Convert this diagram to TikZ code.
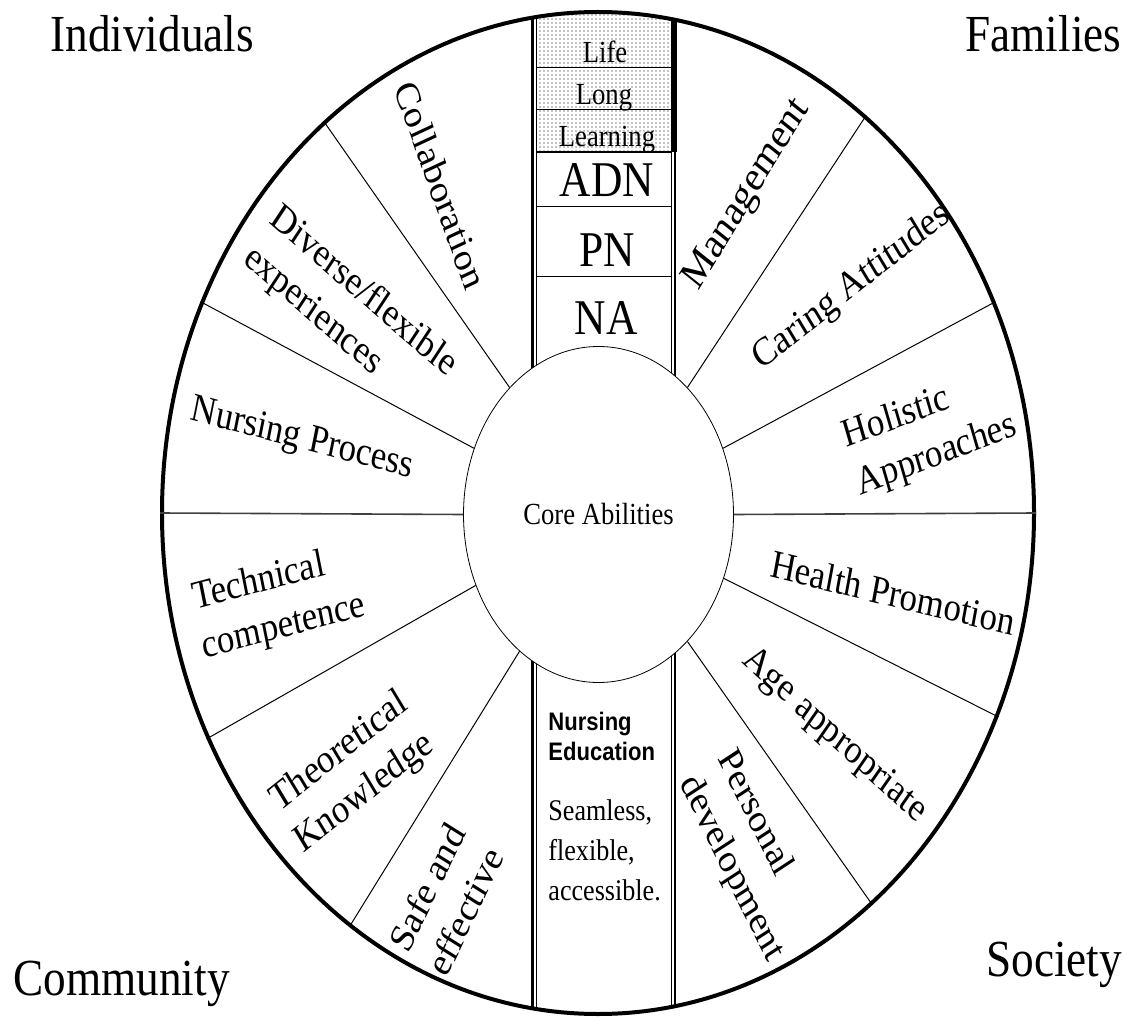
\documentclass[tikz,border=0pt]{standalone}
\usepackage{fontspec}
\setmainfont{Liberation Serif}
\newfontfamily\headfont{Liberation Sans}
\usepackage{tikz}
\usetikzlibrary{shapes.geometric,patterns}
\tikzset{every picture/.style={line width=0.75pt}}
\tikzset{
  lbl/.style={xscale=0.87, inner sep=0pt, font=\fontsize{30}{37.5}\selectfont},
  cornerlbl/.style={xscale=0.87, inner sep=0pt, anchor=base west, font=\fontsize{39}{45}\selectfont},
  celllbl/.style={xscale=0.87, inner sep=0pt, anchor=base, font=\fontsize{37.5}{40}\selectfont},
  lifelbl/.style={xscale=0.87, inner sep=0pt, anchor=base, font=\fontsize{23}{26}\selectfont},
  spoke/.style={line width=0.75pt},
  midspoke/.style={line width=1.2pt, color=black!75},
}

\begin{document}
\begin{tikzpicture}[x=0.75pt,y=0.75pt,yscale=-1,xscale=1]
\useasboundingbox (0,0) rectangle (1134,1019);

%Band through the wheel
\begin{scope}
\clip (598,513) ellipse [x radius=436, y radius=501];
%Shaded cells
\fill [pattern=dots] (536,0) rectangle (672,152);
%Band borders
\draw [line width=2pt] (532.5,0) -- (532.5,1019);
\draw [line width=1pt] (536.5,0) -- (536.5,1019);
\draw [line width=1pt] (671.5,0) -- (671.5,1019);
\draw [line width=2pt] (675,0) -- (675,1019);
\draw [line width=3.5pt] (674.5,0) -- (674.5,152);
%Cell dividers
\draw (536,68) -- (672,68);
\draw (536,110) -- (672,110);
\draw [line width=1.5pt] (536,152) -- (672,152);
\draw (536,207) -- (672,207);
\draw (536,277) -- (672,277);
\end{scope}

%Shape: Ellipse (core)
\node [draw, ellipse, fill=white, inner sep=0pt, line width=0.6pt,
       minimum width=202.5pt, minimum height=252pt] (core) at (598.5,514.5) {};
%Shape: Ellipse (wheel)
\node [draw, ellipse, inner sep=0pt, line width=3pt,
       minimum width=654pt, minimum height=751.5pt] (wheel) at (598,513) {};

%Spokes, left half
\draw [spoke] (core.125) -- (wheel.125);
\draw [spoke] (core.152.5) -- (wheel.152.5);
\draw [midspoke] (core.180) -- (wheel.180);
\draw [spoke] (core.210.5) -- (wheel.210.5);
\draw [spoke] (core.240.5) -- (wheel.239.5);
%Spokes, right half
\draw [spoke] (core.55.5) -- (wheel.56.5);
\draw [spoke] (core.28.5) -- (wheel.28.5);
\draw [midspoke] (core.0) -- (wheel.0);
\draw [spoke] (core.-27.8) -- (wheel.-27.7);
\draw [spoke] (core.-55.7) -- (wheel.-55.3);

%Text Node
\node [xscale=0.87, inner sep=0pt, font=\fontsize{23}{26}\selectfont] (coretxt) at (core.center) {Core Abilities};

%Band cells
\node [lifelbl] (life) at (605,63) {Life};
\node [lifelbl] (long) at (604,105) {Long};
\node [lifelbl] (learning) at (607,147) {Learning};
\node [celllbl] (adn) at (607,197) {ADN};
\node [celllbl] (pn) at (607,267) {PN};
\node [celllbl] (na) at (606,335) {NA};
\node [xscale=0.87, inner sep=0pt, anchor=north west, align=left,
       font=\headfont\bfseries\fontsize{19}{22.5}\selectfont] (nursedu) at (548,712) {Nursing\\Education};
\node [xscale=0.87, inner sep=0pt, anchor=north west, align=left,
       font=\fontsize{22.5}{30}\selectfont] (nursdesc) at (548,799) {Seamless,\\flexible,\\accessible.};

%Sector labels, left half
\node [lbl, rotate=-67.9] (collab) at (441,185) {Collaboration};
\node [lbl, rotate=-37.1, align=left] (diverse) at (350,312) {Diverse/flexible\\experiences};
\node [lbl, rotate=-12.9] (nursproc) at (302,440) {Nursing Process};
\node [lbl, rotate=12.9, align=left] (techcomp) at (279,603) {Technical\\competence};
\node [lbl, rotate=34.7, align=center] (theoknow) at (352,773) {Theoretical\\Knowledge};
\node [lbl, rotate=61.3, align=left] (safeeff) at (446,899) {Safe and\\effective};
%Sector labels, right half
\node [lbl, rotate=55.1, font=\fontsize{32}{37.5}\selectfont] (mgmt) at (747,195) {Management};
\node [lbl, rotate=34.7] (caring) at (852,287) {Caring Attitudes};
\node [lbl, rotate=18.5, align=left] (holistic) at (930,432) {Holistic\\Approaches};
\node [lbl, rotate=-11.9] (healthpro) at (893,593) {Health Promotion};
\node [lbl, rotate=-38.6] (ageapp) at (834,736) {Age appropriate};
\node [lbl, rotate=-60.4, align=left] (persdev) at (750,856) {Personal\\development};

%Corner labels
\node [cornerlbl] (indiv) at (50,52) {Individuals};
\node [cornerlbl] (families) at (965,52) {Families};
\node [cornerlbl] (community) at (13,995) {Community};
\node [cornerlbl] (society) at (986,976) {Society};
\end{tikzpicture}
\end{document}
